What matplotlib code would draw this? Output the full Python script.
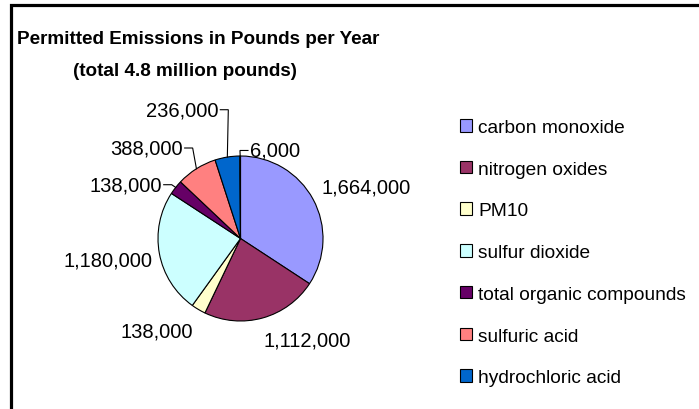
import matplotlib
matplotlib.use('Agg')
import matplotlib.pyplot as plt
import numpy as np

# ---------------- data ----------------
categories = ["carbon monoxide", "nitrogen oxides", "PM10", "sulfur dioxide",
              "total organic compounds", "sulfuric acid", "hydrochloric acid", "other"]
values = [1664000, 1112000, 138000, 1180000, 138000, 388000, 236000, 6000]
legend_count = 7          # the 8th legend entry is cut off in the original
title_line1 = "Permitted Emissions in Pounds per Year"
title_line2 = "(total 4.8 million pounds)"

# ---------------- styles / layout ----------------
colors = ["#9999FF", "#993366", "#FFFFCC", "#CCFFFF", "#660066", "#FF8080", "#0066CC", "#CCCCFF"]
plt.rcParams['font.family'] = ['Liberation Sans', 'DejaVu Sans']

W, H, DPI = 699, 410, 100
R_PX = 82.5                 # pie radius in pixels
CX, CY = 240.5, 239.5       # pie centre in pixels (from top-left)

def P(px, py):
    """pixel position (from top-left) -> data units (pie radius = 1)"""
    return ((px - CX) / R_PX, (CY - py) / R_PX)

# label anchors in pie-radius units, alignment, and whether a leader line is drawn
label_layout = [
    ((1.521, 0.624), 'center', False),
    ((0.806, -1.230), 'center', False),
    ((-1.012, -1.121), 'center', False),
    ((-1.606, -0.261), 'center', False),
    ((-0.955, 0.652), 'right', True),
    ((-0.701, 1.097), 'right', True),
    ((-0.269, 1.561), 'right', True),
    ((0.115, 1.067), 'left', True),
]

fig = plt.figure(figsize=(W / DPI, H / DPI), dpi=DPI)
ax = fig.add_axes([0, 0, 1, 1])

wedges, _ = ax.pie(values, colors=colors, startangle=90, counterclock=False,
                   radius=1, center=(0, 0), frame=True,
                   wedgeprops=dict(edgecolor='black', linewidth=0.8))
ax.set_xlim(-CX / R_PX, (W - CX) / R_PX)
ax.set_ylim(-(H - CY) / R_PX, CY / R_PX)
ax.axis('off')

# data labels with leader lines
gap = 2 / R_PX
elbow = 8 / R_PX
for w, v, (pos, ha, leader) in zip(wedges, values, label_layout):
    ax.text(pos[0], pos[1], f"{v:,}", ha=ha, va='center', fontsize=14.5, color='black')
    if leader:
        mid = np.deg2rad((w.theta1 + w.theta2) / 2)
        ex, ey = np.cos(mid) * w.r, np.sin(mid) * w.r
        d = 1 if ha == 'right' else -1
        sx = pos[0] + d * gap
        bx = sx + d * elbow
        ax.plot([sx, bx, ex], [pos[1], pos[1], ey], color='black', lw=0.8,
                solid_joinstyle='miter')

# outer chart frame (left and top edges visible, rest cropped)
x0, y0 = P(10.5, 5.5)
xb, yb = P(10.5, 420)
xr, _ = P(710, 5.5)
ax.plot([xb, x0, xr], [yb, y0, y0], color='black', lw=2.3, solid_joinstyle='miter')

# title
fig.text(17 / W, 1 - 39 / H, title_line1, fontsize=13.6, fontweight='bold',
         ha='left', va='center')
fig.text(185 / W, 1 - 72 / H, title_line2, fontsize=13.6, fontweight='bold',
         ha='center', va='center')

# legend
fs_leg = 13.8
fs_px = fs_leg * DPI / 72
ax.legend(wedges[:legend_count], categories[:legend_count],
          loc='upper left', bbox_to_anchor=(460 / W, 1 - 120 / H),
          bbox_transform=fig.transFigure, frameon=False, fontsize=fs_leg,
          handlelength=12 / fs_px, handleheight=12 / fs_px,
          handletextpad=6 / fs_px, borderpad=0, borderaxespad=0,
          labelspacing=1.29)

fig.savefig("out.png", dpi=DPI, facecolor='white')
